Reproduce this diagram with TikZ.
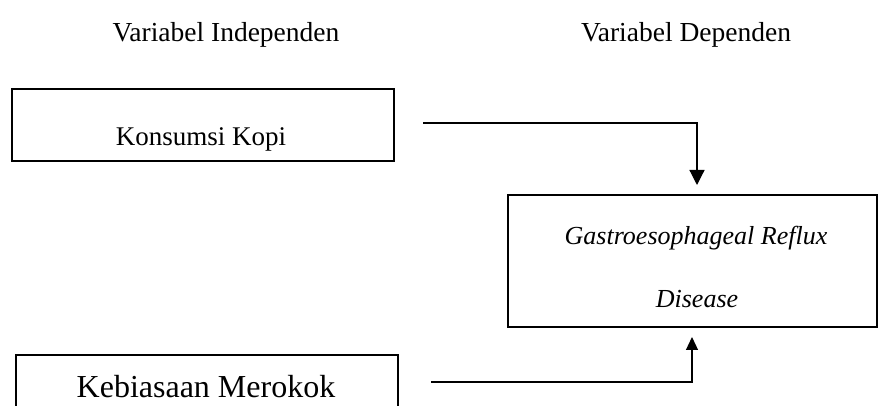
\documentclass[tikz,border=0pt]{standalone}
\usepackage{fontspec}
\setmainfont{Liberation Serif}
\usetikzlibrary{arrows.meta}
\begin{document}
\begin{tikzpicture}[x=1pt,y=-1pt,
  box/.style={draw, line width=1.1pt, inner sep=0pt},
  lbl/.style={inner sep=0pt, anchor=base},
  conn/.style={line width=1.2pt},
  arr/.style={conn, -{Triangle[width=15pt,length=15pt]}}]
\useasboundingbox (0,0) rectangle (879,406);
\begin{scope}
\clip (0,0) rectangle (879,406);
% titles
\node[lbl, font=\fontsize{27.5}{30}\selectfont] (tind) at (226,42) {Variabel Independen};
\node[lbl, font=\fontsize{27.5}{30}\selectfont] (tdep) at (686,42) {Variabel Dependen};
% boxes
\node[box, minimum width=382pt, minimum height=72pt] (kopi) at (203,125) {};
\node[lbl, font=\fontsize{27}{30}\selectfont] (kopit) at (201,146) {Konsumsi Kopi};
\node[box, minimum width=369pt, minimum height=132pt] (gerd) at (692.5,261) {};
\node[lbl, font=\fontsize{26}{30}\selectfont\itshape] (gerd1) at (696,245) {Gastroesophageal Reflux};
\node[lbl, font=\fontsize{26}{30}\selectfont\itshape] (gerd2) at (697,308) {Disease};
\node[box, minimum width=382pt, minimum height=80pt] (rokok) at (207,395) {};
\node[lbl, font=\fontsize{32}{36}\selectfont] (rokokt) at (206,397) {Kebiasaan Merokok};
% connectors
\coordinate (k1) at (423,123);
\coordinate (t1) at (697,185);
\draw[arr] (k1) -| (t1);
\coordinate (r1) at (431,382);
\coordinate (t2) at (692,337);
\draw[conn, -{Triangle[width=12pt,length=13pt]}] (r1) -| (t2);
\end{scope}
\end{tikzpicture}
\end{document}
